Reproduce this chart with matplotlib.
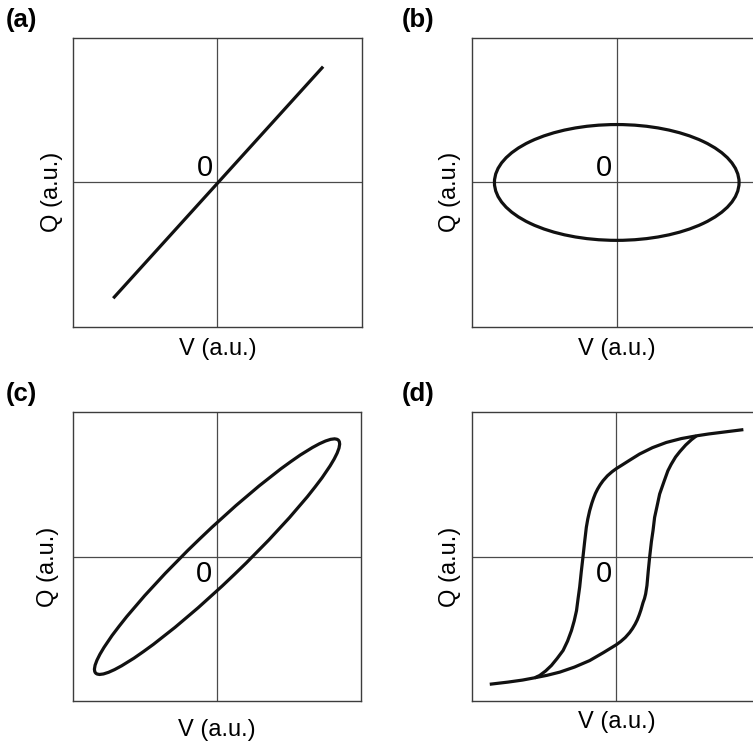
import matplotlib.pyplot as plt
from matplotlib.patches import Ellipse

plt.rcParams['font.family'] = ['Liberation Sans', 'DejaVu Sans']

# (a) linear capacitor: straight line through the origin
lin_v = [-0.72, 0.73]
lin_q = [-0.80, 0.80]

# (b) lossy resistor: upright ellipse (semi-axes in V and Q)
res_v_amp = 0.845
res_q_amp = 0.40

# (c) lossy capacitor: tilted ellipse (semi-major, semi-minor, tilt in degrees)
lossy_major = 1.165
lossy_minor = 0.172
lossy_tilt = 43.8

# (d) ferroelectric hysteresis loop, digitised branches
upper_v = [0.88, 0.80, 0.72, 0.64, 0.555, 0.45, 0.346, 0.25, 0.161, 0.092,
           0.04, 0.0, -0.03, -0.062, -0.092, -0.112, -0.13, -0.145, -0.158,
           -0.17, -0.185, -0.198, -0.208, -0.22, -0.231, -0.243, -0.254,
           -0.265, -0.276, -0.292, -0.311, -0.338, -0.369, -0.41, -0.45, -0.49,
           -0.531, -0.565, -0.65, -0.75, -0.877]
upper_q = [0.88, 0.87, 0.86, 0.85, 0.837, 0.818, 0.791, 0.755, 0.711, 0.668,
           0.635, 0.61, 0.588, 0.56, 0.526, 0.498, 0.468, 0.438, 0.405, 0.37,
           0.318, 0.26, 0.203, 0.10, 0.0, -0.105, -0.21, -0.29, -0.374, -0.445,
           -0.512, -0.585, -0.65, -0.705, -0.754, -0.792, -0.823, -0.839,
           -0.855, -0.869, -0.884]
lower_v = [-0.565, -0.48, -0.392, -0.29, -0.185, -0.09, 0.0, 0.03, 0.062,
           0.092, 0.112, 0.13, 0.145, 0.158, 0.17, 0.185, 0.195, 0.203, 0.212,
           0.221, 0.231, 0.243, 0.254, 0.265, 0.282, 0.30, 0.33, 0.357, 0.38,
           0.41, 0.44, 0.48, 0.52, 0.555]
lower_q = [-0.839, -0.822, -0.80, -0.765, -0.72, -0.665, -0.61, -0.588, -0.56,
           -0.526, -0.498, -0.468, -0.438, -0.405, -0.37, -0.318, -0.29,
           -0.258, -0.2, -0.1, 0.0, 0.105, 0.18, 0.272, 0.35, 0.434, 0.52,
           0.595, 0.64, 0.69, 0.728, 0.773, 0.81, 0.837]

panel_tags = ['(a)', '(b)', '(c)', '(d)']
zero_text = '0'
xlabel = 'V (a.u.)'
ylabel = 'Q (a.u.)'

curve_kw = dict(color='#111111', lw=2.3, solid_capstyle='butt',
                solid_joinstyle='round')
frame_color = '#3c3c3c'
cross_color = '#4a4a4a'

fig = plt.figure(figsize=(7.53, 7.44), dpi=100)

W, H = 753.0, 744.0
# axes boxes in pixels: left, top, size
boxes = [(72.7, 37.7, 289.5), (472.0, 37.7, 289.5),
         (72.7, 412.3, 288.7), (472.0, 412.3, 288.7)]
axes = []
for left, top, size in boxes:
    ax = fig.add_axes([left / W, 1 - (top + size) / H, size / W, size / H])
    ax.set_xlim(-1, 1)
    ax.set_ylim(-1, 1)
    ax.set_xticks([])
    ax.set_yticks([])
    for sp in ax.spines.values():
        sp.set_color(frame_color)
        sp.set_linewidth(1.0)
    ax.axhline(0, color=cross_color, lw=0.9, zorder=1)
    ax.axvline(0, color=cross_color, lw=0.9, zorder=1)
    axes.append(ax)

ax_a, ax_b, ax_c, ax_d = axes

ax_a.plot(lin_v, lin_q, **curve_kw)
ax_b.add_patch(Ellipse((0, 0), 2 * res_v_amp, 2 * res_q_amp, fill=False,
                       ec='#111111', lw=2.3))
ax_c.add_patch(Ellipse((0, 0), 2 * lossy_major, 2 * lossy_minor,
                       angle=lossy_tilt, fill=False, ec='#111111', lw=2.3))
ax_d.plot(upper_v, upper_q, **curve_kw)
ax_d.plot(lower_v, lower_q, **curve_kw)

# zero marker next to the origin
for ax in (ax_a, ax_b):
    ax.text(-0.032, 0.044, zero_text, ha='right', va='baseline', fontsize=21)
for ax in (ax_c, ax_d):
    ax.text(-0.032, -0.178, zero_text, ha='right', va='baseline', fontsize=21)

# axis labels, panel tags
xlab_y = [-0.075, -0.075, -0.1, -0.072]
ylab_x = [-0.072, -0.076, -0.087, -0.076]
tag_pos = [(21, 20.5), (418, 20.5), (21, 394), (418, 394)]
for ax, tag, xy, (tx, ty), lx in zip(axes, panel_tags, xlab_y, tag_pos, ylab_x):
    ax.text(0.5, xy, xlabel, transform=ax.transAxes, ha='center', va='center',
            fontsize=17)
    ax.text(lx, 0.466, ylabel, transform=ax.transAxes, ha='center', va='center',
            rotation=90, fontsize=17)
    fig.text(tx / W, 1 - ty / H, tag, ha='center', va='center', fontsize=18.5,
             fontweight='bold')

fig.savefig('out.png', dpi=100)
